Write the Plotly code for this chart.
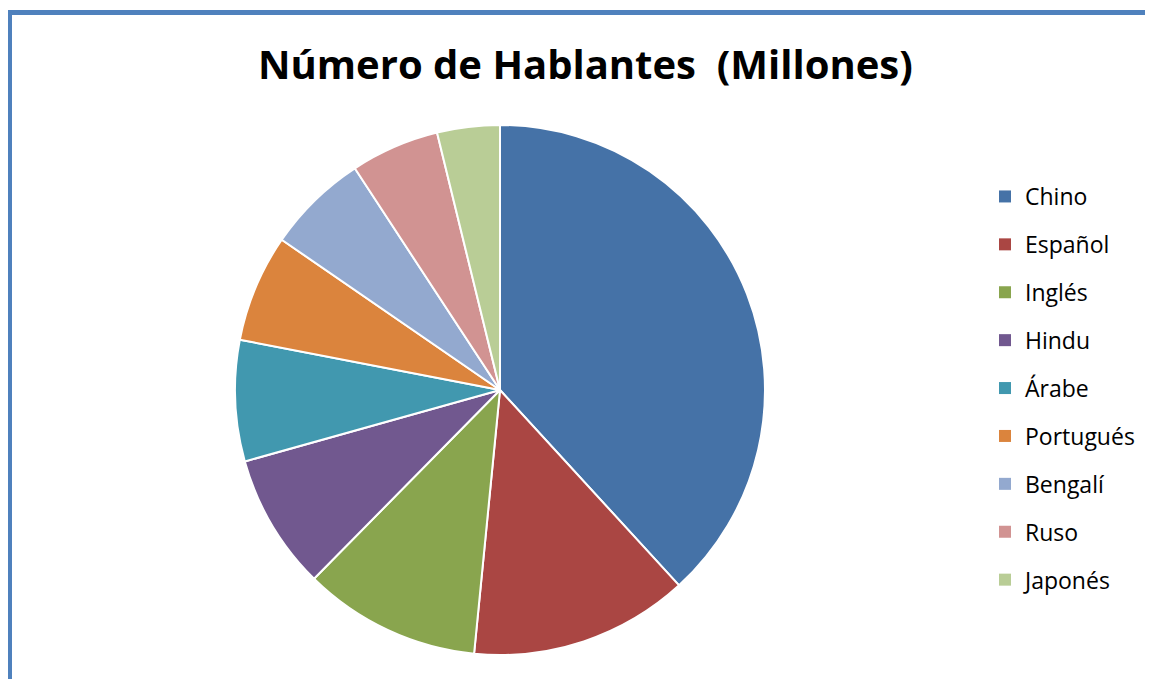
import plotly.graph_objects as go

W, H = 1153, 679
OFF = 8  # page body margin offset

labels = ["Chino", "Español", "Inglés", "Hindu", "Árabe", "Portugués", "Bengalí", "Ruso", "Japonés"]
values = [1200, 420, 340, 260, 232, 206, 194, 170, 120]
colors = ["#4572A7", "#AA4643", "#89A54E", "#71588F", "#4198AF", "#DB843D", "#93A9CF", "#D19392", "#B9CD96"]
title_text = "Número de Hablantes  (Millones)"


def px(x):
    return (x - OFF) / W


def py(y):
    return 1 - (y - OFF) / H


fig = go.Figure()

cx, cy, r = 500, 390, 265

fig.add_trace(go.Pie(
    labels=labels,
    values=values,
    sort=False,
    direction="clockwise",
    rotation=0,
    marker=dict(colors=colors, line=dict(color="white", width=2)),
    textinfo="none",
    hoverinfo="label+value+percent",
    showlegend=False,
    domain=dict(x=[px(cx - r), px(cx + r)], y=[py(cy + r), py(cy - r)]),
))

for lab, col in zip(labels, colors):
    fig.add_trace(go.Scatter(
        x=[None], y=[None], mode="markers", name=lab,
        legendgroup=lab,
        marker=dict(symbol="square", size=12, color=col),
    ))

fig.update_layout(
    width=W, height=H,
    margin=dict(l=0, r=0, t=0, b=0),
    paper_bgcolor="white",
    plot_bgcolor="white",
    xaxis=dict(visible=False),
    yaxis=dict(visible=False),
    font=dict(family="Open Sans", color="black"),
    legend=dict(
        x=px(985), y=py(175), xanchor="left", yanchor="top",
        font=dict(size=23, family="Open Sans", color="black"),
        tracegroupgap=15,
        itemwidth=30,
        bgcolor="rgba(0,0,0,0)",
    ),
    annotations=[dict(
        text="<b>" + title_text + "</b>",
        x=px(585), y=py(63), xref="paper", yref="paper",
        xanchor="center", yanchor="middle", showarrow=False,
        font=dict(size=40, family="Open Sans", color="black"),
    )],
    shapes=[dict(
        type="rect", xref="paper", yref="paper",
        x0=px(9.5), x1=1.02, y0=-0.02, y1=py(12.5),
        line=dict(color="#4F81BD", width=5),
        fillcolor="rgba(0,0,0,0)",
    )],
)

fig.write_html("out.html")
